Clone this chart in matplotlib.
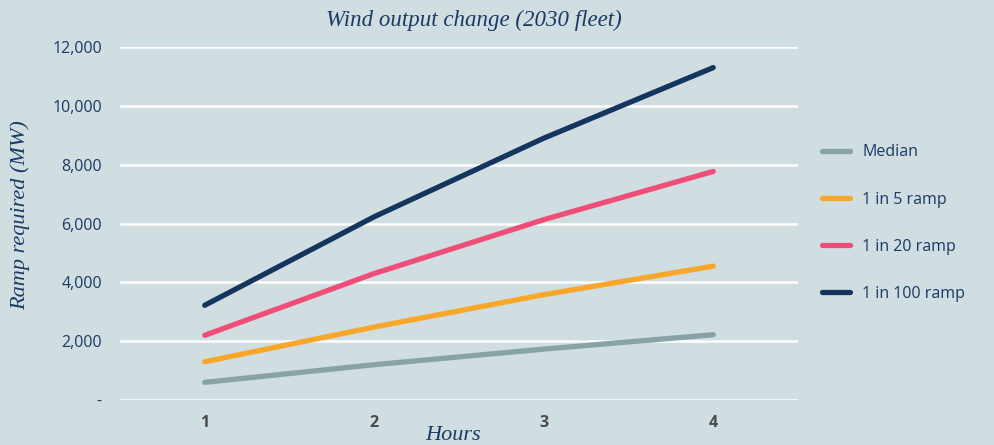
import matplotlib
matplotlib.use("Agg")
import matplotlib.pyplot as plt
from matplotlib.ticker import FuncFormatter

hours = [1, 2, 3, 4]
median = [600, 1200, 1730, 2220]
ramp_1in5 = [1300, 2480, 3580, 4550]
ramp_1in20 = [2200, 4300, 6130, 7770]
ramp_1in100 = [3220, 6230, 8900, 11300]

series = [
    ("Median", median, "#86A4A6"),
    ("1 in 5 ramp", ramp_1in5, "#F9A72B"),
    ("1 in 20 ramp", ramp_1in20, "#F04E78"),
    ("1 in 100 ramp", ramp_1in100, "#14365E"),
]

bg = "#D0DDE1"
navy = "#1B3A66"
sans = "Open Sans"

fig = plt.figure(figsize=(9.95, 4.45), dpi=100, facecolor=bg)
ax = fig.add_axes([120 / 995, 45 / 445, 678 / 995, 353 / 445])
ax.set_facecolor(bg)

for name, vals, col in series:
    ax.plot(hours, vals, color=col, lw=3.8, solid_capstyle="round", label=name)

ax.set_xlim(0.5, 4.5)
ax.set_ylim(0, 12000)
ax.set_yticks(range(0, 12001, 2000))
ax.yaxis.set_major_formatter(FuncFormatter(lambda v, p: "-" if v == 0 else f"{int(v):,}"))
ax.set_xticks(hours)
ax.grid(axis="y", color="white", lw=1.8)
ax.set_axisbelow(True)
for s in ax.spines.values():
    s.set_visible(False)
ax.tick_params(length=0)
ax.tick_params(axis="y", pad=13, labelsize=11.5, labelcolor=navy)
for t in ax.get_yticklabels():
    t.set_fontfamily(sans)
ax.tick_params(axis="x", pad=11, labelsize=11.5, labelcolor="#4A4A4A")
for t in ax.get_xticklabels():
    t.set_fontfamily(sans)
    t.set_fontweight("bold")

serif = dict(family="Liberation Serif", style="italic", color=navy)
fig.text(474 / 995, 1 - 20 / 445, "Wind output change (2030 fleet)", ha="center", va="center", fontsize=16.5, **serif)
fig.text(20 / 995, 1 - 215 / 445, "Ramp required (MW)", ha="center", va="center", rotation=90, fontsize=16, **serif)
fig.text(453 / 995, 1 - 435 / 445, "Hours", ha="center", va="center", fontsize=16, **serif)

leg = fig.legend(loc="upper left", bbox_to_anchor=(808 / 995, 1 - 130 / 445), frameon=False,
                 handlelength=1.7, handletextpad=0.8, labelspacing=1.95,
                 prop={"family": sans, "size": 11.5})
for t in leg.get_texts():
    t.set_color(navy)

fig.savefig("out.png", dpi=100, facecolor=bg)
